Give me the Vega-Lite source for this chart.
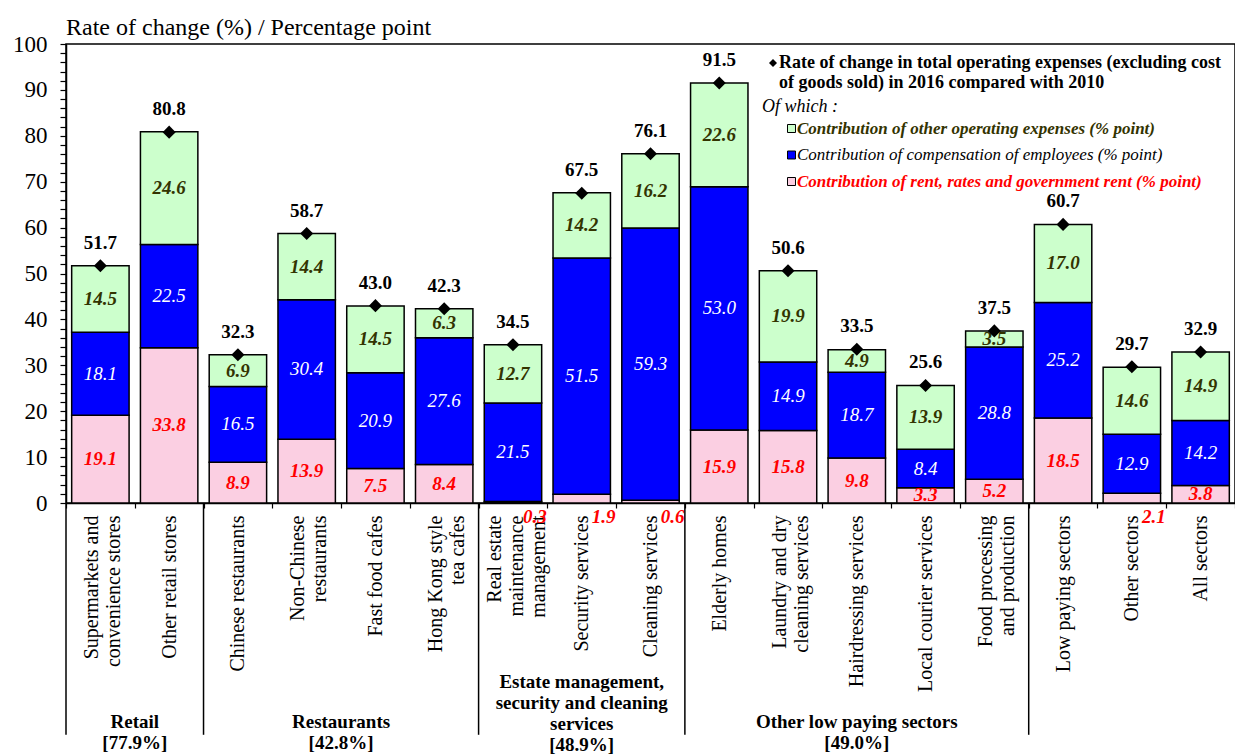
{
  "$schema": "https://vega.github.io/schema/vega-lite/v6.json",
  "width": 1169,
  "height": 459,
  "autosize": "none",
  "padding": {"left": 66, "top": 44, "right": 0, "bottom": 252},
  "background": "white",
  "config": {
    "font": "Liberation Serif",
    "view": {"stroke": "black", "strokeWidth": 1.5},
    "axis": {"domainColor": "black", "tickColor": "black", "labelColor": "black", "labelFont": "Liberation Serif", "grid": false},
    "legend": {"padding": 0}
  },
  "title": {
    "text": "Rate of change (%) / Percentage point",
    "anchor": "start",
    "frame": "group",
    "font": "Liberation Serif",
    "fontSize": 24,
    "fontWeight": "normal",
    "color": "black",
    "offset": -7
  },
  "datasets": {
    "sectors": [
      {"sector": "Supermarkets and|convenience stores", "rent": 19.1, "comp": 18.1, "other": 14.5, "total": 51.7},
      {"sector": "Other retail stores", "rent": 33.8, "comp": 22.5, "other": 24.6, "total": 80.8},
      {"sector": "Chinese restaurants", "rent": 8.9, "comp": 16.5, "other": 6.9, "total": 32.3},
      {"sector": "Non-Chinese|restaurants", "rent": 13.9, "comp": 30.4, "other": 14.4, "total": 58.7},
      {"sector": "Fast food cafes", "rent": 7.5, "comp": 20.9, "other": 14.5, "total": 43.0},
      {"sector": "Hong Kong style|tea cafes", "rent": 8.4, "comp": 27.6, "other": 6.3, "total": 42.3},
      {"sector": "Real estate|maintenance|management", "rent": 0.3, "comp": 21.5, "other": 12.7, "total": 34.5},
      {"sector": "Security services", "rent": 1.9, "comp": 51.5, "other": 14.2, "total": 67.5},
      {"sector": "Cleaning services", "rent": 0.6, "comp": 59.3, "other": 16.2, "total": 76.1},
      {"sector": "Elderly homes", "rent": 15.9, "comp": 53.0, "other": 22.6, "total": 91.5},
      {"sector": "Laundry and dry|cleaning services", "rent": 15.8, "comp": 14.9, "other": 19.9, "total": 50.6},
      {"sector": "Hairdressing services", "rent": 9.8, "comp": 18.7, "other": 4.9, "total": 33.5},
      {"sector": "Local courier services", "rent": 3.3, "comp": 8.4, "other": 13.9, "total": 25.6},
      {"sector": "Food processing|and production", "rent": 5.2, "comp": 28.8, "other": 3.5, "total": 37.5},
      {"sector": "Low paying sectors", "rent": 18.5, "comp": 25.2, "other": 17.0, "total": 60.7},
      {"sector": "Other sectors", "rent": 2.1, "comp": 12.9, "other": 14.6, "total": 29.7},
      {"sector": "All sectors", "rent": 3.8, "comp": 14.2, "other": 14.9, "total": 32.9}
    ],
    "groups": [
      {"lines": ["Retail", "[77.9%]"], "first": "Supermarkets and|convenience stores", "mid": "Other retail stores", "n": 2},
      {"lines": ["Restaurants", "[42.8%]"], "first": "Chinese restaurants", "mid": "Fast food cafes", "n": 4},
      {"lines": ["Estate management,", "security and cleaning", "services", "[48.9%]"], "first": "Real estate|maintenance|management", "mid": "Security services", "n": 3},
      {"lines": ["Other low paying sectors", "[49.0%]"], "first": "Elderly homes", "mid": "Hairdressing services", "n": 5},
      {"lines": [""], "first": "Low paying sectors", "mid": "Other sectors", "n": 3}
    ]
  },
  "layer": [
    {
      "data": {"name": "sectors"},
      "transform": [
        {"fold": ["rent", "comp", "other"], "as": ["component", "value"]},
        {"calculate": "indexof(['rent', 'comp', 'other'], datum.component)", "as": "rank"},
        {"stack": "value", "groupby": ["sector"], "sort": [{"field": "rank", "order": "ascending"}], "as": ["v0", "v1"]},
        {"calculate": "(datum.v0 + datum.v1) / 2", "as": "mid"}
      ],
      "layer": [
        {
          "mark": {"type": "bar", "width": {"band": 0.835}, "stroke": "black", "strokeWidth": 1.5},
          "encoding": {
            "x": {
              "field": "sector", "type": "nominal", "sort": null,
              "scale": {"domain": ["Supermarkets and|convenience stores", "Other retail stores", "Chinese restaurants", "Non-Chinese|restaurants", "Fast food cafes", "Hong Kong style|tea cafes", "Real estate|maintenance|management", "Security services", "Cleaning services", "Elderly homes", "Laundry and dry|cleaning services", "Hairdressing services", "Local courier services", "Food processing|and production", "Low paying sectors", "Other sectors", "All sectors"], "paddingInner": 0, "paddingOuter": 0},
              "axis": {
                "title": null,
                "labelAngle": 270,
                "labelExpr": "split(datum.label, '|')",
                "labelFontSize": 20,
                "labelLineHeight": 22,
                "labelLimit": 400,
                "labelPadding": 7,
                "labelOffset": {
                  "condition": [
                    {"test": "length(split(datum.value, '|')) === 3", "value": -18},
                    {"test": "length(split(datum.value, '|')) === 2", "value": -9}
                  ],
                  "value": 0
                },
                "tickBand": "extent",
                "tickSize": 5,
                "tickWidth": 1.2,
                "domainWidth": 1.5
              }
            },
            "y": {
              "field": "v1", "type": "quantitative",
              "scale": {"domain": [0, 100], "nice": false},
              "axis": {
                "title": null,
                "values": [0, 2, 4, 6, 8, 10, 12, 14, 16, 18, 20, 22, 24, 26, 28, 30, 32, 34, 36, 38, 40, 42, 44, 46, 48, 50, 52, 54, 56, 58, 60, 62, 64, 66, 68, 70, 72, 74, 76, 78, 80, 82, 84, 86, 88, 90, 92, 94, 96, 98, 100],
                "tickCount": 60,
                "labelExpr": "datum.value % 10 === 0 ? datum.label : ''",
                "labelOverlap": false,
                "labelFlush": false,
                "labelFontSize": 23,
                "labelPadding": 13,
                "tickSize": 6,
                "tickWidth": 1.2,
                "domainWidth": 1.5
              }
            },
            "y2": {"field": "v0"},
            "color": {
              "field": "component", "type": "nominal",
              "scale": {"domain": ["other", "comp", "rent"], "range": ["#ccffcc", "#0000ff", "#fbcfe2"]},
              "legend": {
                "orient": "none",
                "legendX": 696,
                "legendY": 54,
                "title": "Of which :",
                "titleFont": "Liberation Serif",
                "titleFontSize": 18,
                "titleFontStyle": "italic",
                "titleFontWeight": "normal",
                "titleColor": "black",
                "titlePadding": 4,
                "labelExpr": "datum.value === 'other' ? 'Contribution of other operating expenses (% point)' : datum.value === 'comp' ? 'Contribution of compensation of employees (% point)' : 'Contribution of rent, rates and government rent (% point)'",
                "labelFont": "Liberation Serif",
                "labelFontSize": 17,
                "labelFontStyle": "italic",
                "labelLimit": 500,
                "labelOffset": -3,
                "symbolType": "square",
                "symbolSize": 64,
                "symbolOffset": 21,
                "symbolStrokeColor": "black",
                "symbolStrokeWidth": 1,
                "rowPadding": 8.5,
                "encode": {
                  "labels": {"update": {
                    "fill": {"signal": "datum.value === 'rent' ? '#ff0000' : datum.value === 'other' ? '#333300' : '#000000'"},
                    "fontWeight": {"signal": "datum.value === 'comp' ? 'normal' : 'bold'"}
                  }}
                }
              }
            }
          }
        },
        {
          "transform": [{"filter": "datum.component === 'rent' && datum.value >= 3"}],
          "mark": {"type": "text", "font": "Liberation Serif", "fontSize": 19, "fontStyle": "italic", "fontWeight": "bold", "color": "#ff0000"},
          "encoding": {
            "x": {"field": "sector", "type": "nominal"},
            "y": {"field": "mid", "type": "quantitative"},
            "text": {"field": "value", "format": ".1f"}
          }
        },
        {
          "transform": [{"filter": "datum.component === 'rent' && datum.value < 3"}],
          "mark": {"type": "text", "font": "Liberation Serif", "fontSize": 19, "fontStyle": "italic", "fontWeight": "bold", "color": "#ff0000", "dx": 22, "dy": 14},
          "encoding": {
            "x": {"field": "sector", "type": "nominal"},
            "y": {"field": "v0", "type": "quantitative"},
            "text": {"field": "value", "format": ".1f"}
          }
        },
        {
          "transform": [{"filter": "datum.component === 'comp'"}],
          "mark": {"type": "text", "font": "Liberation Serif", "fontSize": 19, "fontStyle": "italic", "color": "#ffffff"},
          "encoding": {
            "x": {"field": "sector", "type": "nominal"},
            "y": {"field": "mid", "type": "quantitative"},
            "text": {"field": "value", "format": ".1f"}
          }
        },
        {
          "transform": [{"filter": "datum.component === 'other'"}],
          "mark": {"type": "text", "font": "Liberation Serif", "fontSize": 19, "fontStyle": "italic", "fontWeight": "bold", "color": "#333300"},
          "encoding": {
            "x": {"field": "sector", "type": "nominal"},
            "y": {"field": "mid", "type": "quantitative"},
            "text": {"field": "value", "format": ".1f"}
          }
        }
      ]
    },
    {
      "data": {"name": "sectors"},
      "layer": [
        {
          "mark": {"type": "point", "filled": true, "color": "black", "size": 170, "opacity": 1},
          "encoding": {
            "x": {"field": "sector", "type": "nominal"},
            "y": {"field": "total", "type": "quantitative"},
            "shape": {
              "datum": "total", "type": "nominal",
              "scale": {"range": ["diamond"]},
              "legend": {
                "orient": "none",
                "legendX": 698,
                "legendY": 10,
                "title": null,
                "labelExpr": "['Rate of change in total operating expenses (excluding cost', 'of goods sold) in 2016 compared with 2010']",
                "labelFont": "Liberation Serif",
                "labelFontSize": 18,
                "labelFontWeight": "bold",
                "labelColor": "black",
                "labelLimit": 600,
                "labelOffset": -3,
                "symbolSize": 64,
                "symbolFillColor": "black",
                "symbolStrokeColor": "black",
                "encode": {"labels": {"enter": {"lineHeight": {"value": 22}}, "update": {"lineHeight": {"value": 22}}}}
              }
            }
          }
        },
        {
          "mark": {"type": "text", "font": "Liberation Serif", "fontSize": 19, "fontWeight": "bold", "color": "black", "baseline": "alphabetic", "dy": -17},
          "encoding": {
            "x": {"field": "sector", "type": "nominal"},
            "y": {"field": "total", "type": "quantitative"},
            "text": {"field": "total", "format": ".1f"}
          }
        }
      ]
    },
    {
      "data": {"name": "groups"},
      "layer": [
        {
          "mark": {"type": "rule", "color": "black", "strokeWidth": 1.5},
          "encoding": {
            "x": {"field": "first", "type": "nominal", "bandPosition": 0},
            "y": {"datum": 0, "type": "quantitative"},
            "y2": {"datum": -50.5}
          }
        },
        {
          "transform": [{"filter": "datum.n % 2 === 0"}],
          "mark": {"type": "text", "font": "Liberation Serif", "fontSize": 19, "fontWeight": "bold", "color": "black", "lineHeight": 21, "baseline": "middle"},
          "encoding": {
            "x": {"field": "mid", "type": "nominal", "bandPosition": 0},
            "y": {"datum": -47.7, "type": "quantitative"},
            "text": {"field": "lines"}
          }
        },
        {
          "transform": [{"filter": "datum.n % 2 === 1 && length(datum.lines) === 2"}],
          "mark": {"type": "text", "font": "Liberation Serif", "fontSize": 19, "fontWeight": "bold", "color": "black", "lineHeight": 21, "baseline": "middle"},
          "encoding": {
            "x": {"field": "mid", "type": "nominal", "bandPosition": 0.5},
            "y": {"datum": -47.7, "type": "quantitative"},
            "text": {"field": "lines"}
          }
        },
        {
          "transform": [{"filter": "length(datum.lines) === 4"}],
          "mark": {"type": "text", "font": "Liberation Serif", "fontSize": 19, "fontWeight": "bold", "color": "black", "lineHeight": 21, "baseline": "middle"},
          "encoding": {
            "x": {"field": "mid", "type": "nominal", "bandPosition": 0.5},
            "y": {"datum": -39.0, "type": "quantitative"},
            "text": {"field": "lines"}
          }
        }
      ]
    }
  ]
}
